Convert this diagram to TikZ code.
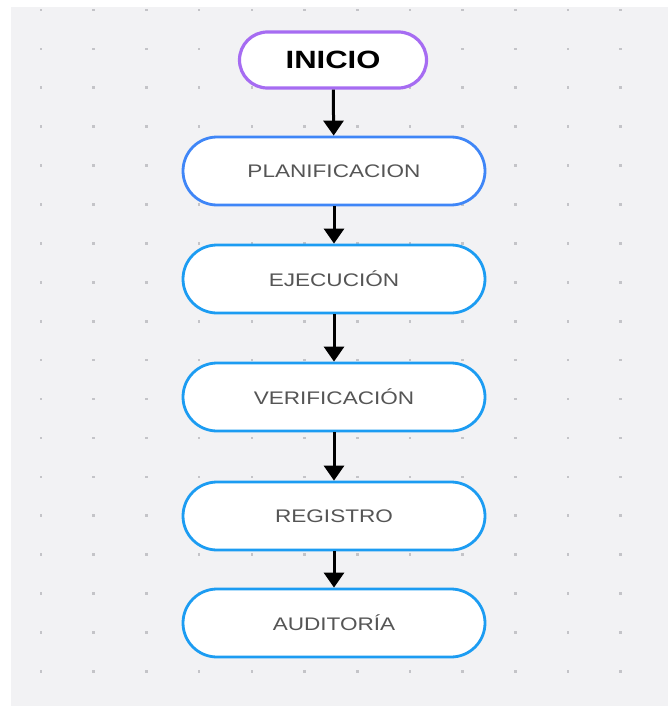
\documentclass[tikz,border=0pt]{standalone}
\usepackage{fontspec}
\newfontfamily\flowfont{Liberation Sans}[FakeStretch=1.24]
\usetikzlibrary{arrows.meta}

\definecolor{canvas}{HTML}{F2F2F4}
\definecolor{dotgray}{HTML}{C4C4C8}
\definecolor{startpurple}{HTML}{A66CF2}
\definecolor{planblue}{HTML}{3F86F7}
\definecolor{stepblue}{HTML}{1C9CF2}
\definecolor{labelgray}{HTML}{555555}

\begin{document}
\begin{tikzpicture}[x=1pt,y=-1pt,
    pill/.style={draw,fill=white,line width=2.8pt,rounded corners=34pt,
      minimum width=302pt,minimum height=68pt,inner sep=0pt,
      font=\flowfont\fontsize{18.2}{20}\selectfont,text=labelgray},
    startpill/.style={pill,draw=startpurple,line width=3.2pt,rounded corners=28pt,
      minimum width=187pt,minimum height=56pt,
      font=\flowfont\bfseries\fontsize{25}{28}\selectfont,text=black},
    flow/.style={line width=3pt,-{Triangle[width=20pt,length=15pt]}}]
  \useasboundingbox (0,0) rectangle (668,706);
  \fill[white] (0,0) rectangle (668,706);
  \fill[canvas] (11,7) rectangle (668,706);
  % dotted canvas
  \foreach \i in {0,...,11}
    \foreach \j in {0,...,17}
      \fill[dotgray] ({41+52.7*\i-1.3},{10+38.9*\j-1.3}) rectangle +(2.6,2.6);
  % steps
  \node[startpill] (inicio) at (333,60) {INICIO};
  \node[pill,draw=planblue] (planificacion) at (334,171) {PLANIFICACION};
  \node[pill,draw=stepblue] (ejecucion) at (334,279) {EJECUCIÓN};
  \node[pill,draw=stepblue] (verificacion) at (334,397) {VERIFICACIÓN};
  \node[pill,draw=stepblue] (registro) at (334,516) {REGISTRO};
  \node[pill,draw=stepblue] (auditoria) at (334,623) {AUDITORÍA};
  % arrows
  \draw[flow] (inicio) -- (planificacion);
  \draw[flow] (planificacion) -- (ejecucion);
  \draw[flow] (ejecucion) -- (verificacion);
  \draw[flow] (verificacion) -- (registro);
  \draw[flow] (registro) -- (auditoria);
\end{tikzpicture}
\end{document}
